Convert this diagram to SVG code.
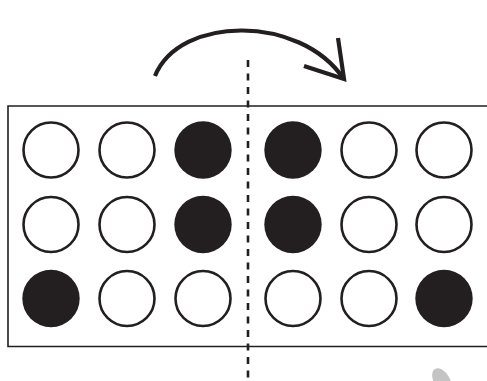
<svg xmlns="http://www.w3.org/2000/svg" width="487" height="381" viewBox="0 0 487 381">
<style>
.o{fill:#fff;stroke:#231f20;stroke-width:2.6}
.f{fill:#231f20}
.frame{fill:none;stroke:#231f20;stroke-width:1.6}
.axis{stroke:#231f20;stroke-width:2.6;stroke-dasharray:7 6.5;fill:none}
.arrow{fill:none;stroke:#231f20;stroke-width:4.2}
</style>
<rect width="487" height="381" fill="#fff"/>
<path id="frame" class="frame" d="M490,106 H8 V346.5 H490"/>
<g id="row1">
<circle class="o" cx="51" cy="150" r="27.5"/>
<circle class="o" cx="127" cy="150" r="27.5"/>
<circle class="f" cx="203" cy="150" r="28.7"/>
<circle class="f" cx="293" cy="150" r="28.7"/>
<circle class="o" cx="369" cy="150" r="27.5"/>
<circle class="o" cx="444" cy="150" r="27.5"/>
</g>
<g id="row2">
<circle class="o" cx="51" cy="224.5" r="27.5"/>
<circle class="o" cx="127" cy="224.5" r="27.5"/>
<circle class="f" cx="203" cy="224.5" r="28.7"/>
<circle class="f" cx="293" cy="224.5" r="28.7"/>
<circle class="o" cx="369" cy="224.5" r="27.5"/>
<circle class="o" cx="444" cy="224.5" r="27.5"/>
</g>
<g id="row3">
<circle class="f" cx="51" cy="298.5" r="28.7"/>
<circle class="o" cx="127" cy="298.5" r="27.5"/>
<circle class="o" cx="203" cy="298.5" r="27.5"/>
<circle class="o" cx="293" cy="298.5" r="27.5"/>
<circle class="o" cx="369" cy="298.5" r="27.5"/>
<circle class="f" cx="444" cy="298.5" r="28.7"/>
</g>
<g id="connectors">
<line class="axis" x1="248" y1="60" x2="248" y2="381"/>
<path class="arrow" d="M155,76 C180,15 300,15 343,78"/>
<polyline class="arrow" points="338,38 344,79 304,66" stroke-miterlimit="10"/>
</g>
<ellipse cx="442" cy="381" rx="8" ry="14" transform="rotate(-30 442 381)" fill="#c4c4c4"/>
</svg>
